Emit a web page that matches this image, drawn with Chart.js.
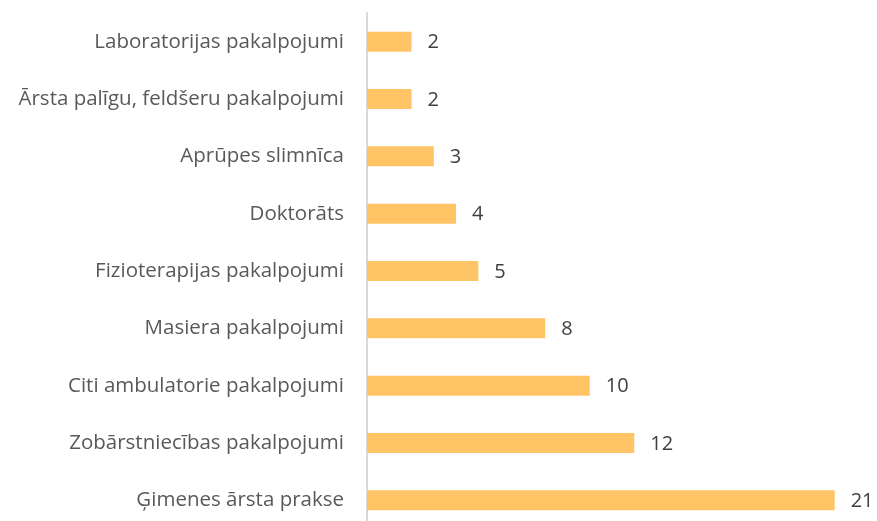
<!DOCTYPE html>
<html>
<head>
<meta charset="utf-8">
<script src="https://cdn.jsdelivr.net/npm/chart.js@4"></script>
<style>
  html, body { margin: 0; padding: 0; background: #fff; overflow: hidden; }
  canvas { display: block; }
</style>
</head>
<body>
<canvas id="chart" width="877" height="529"></canvas>
<script>
// Data
const categories = [
  "Laboratorijas pakalpojumi",
  "Ārsta palīgu, feldšeru pakalpojumi",
  "Aprūpes slimnīca",
  "Doktorāts",
  "Fizioterapijas pakalpojumi",
  "Masiera pakalpojumi",
  "Citi ambulatorie pakalpojumi",
  "Zobārstniecības pakalpojumi",
  "Ģimenes ārsta prakse"
];
const counts = [2, 2, 3, 4, 5, 8, 10, 12, 21];

const FONT = "'Open Sans', Lato, sans-serif";

// Value labels at the end of each bar
const barLabels = {
  id: "barLabels",
  afterDatasetsDraw(chart) {
    const ctx = chart.ctx;
    const meta = chart.getDatasetMeta(0);
    ctx.save();
    ctx.font = "20px " + FONT;
    ctx.fillStyle = "#404040";
    ctx.textAlign = "left";
    ctx.textBaseline = "middle";
    meta.data.forEach((bar, i) => {
      ctx.fillText(String(counts[i]), bar.x + 16, bar.y + 1);
    });
    ctx.restore();
  }
};

const ctx = document.getElementById("chart").getContext("2d");
new Chart(ctx, {
  type: "bar",
  data: {
    labels: categories,
    datasets: [{
      data: counts,
      backgroundColor: "#FFC466",
      barPercentage: 0.7,
      categoryPercentage: 0.5
    }]
  },
  options: {
    indexAxis: "y",
    responsive: false,
    animation: false,
    layout: { autoPadding: false, padding: { top: 13, right: 0, bottom: 0, left: 0 } },
    plugins: {
      legend: { display: false },
      tooltip: { enabled: false }
    },
    scales: {
      x: {
        display: false,
        min: 0,
        max: 22.9
      },
      y: {
        // fixed axis position, no label padding above/below the plot
        afterFit(scale) {
          scale.width = 367;
          scale.paddingTop = 0;
          scale.paddingBottom = 0;
        },
        grid: { display: false, drawTicks: false },
        border: { display: true, color: "#d9d9d9", width: 2 },
        ticks: {
          padding: 23,
          color: "#595959",
          font: { family: FONT, size: 20.5 }
        }
      }
    }
  },
  plugins: [barLabels]
});
</script>
</body>
</html>
